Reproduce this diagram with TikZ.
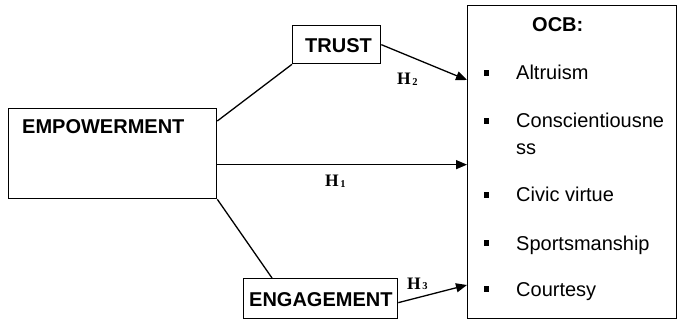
\documentclass[tikz,border=0pt]{standalone}
\usepackage{fontspec}
\setmainfont{Liberation Sans}
\newfontfamily\hfont{Liberation Serif}
\usetikzlibrary{arrows.meta,calc}
\newcommand{\hyplabel}[1]{H\kern1.5pt\raisebox{-0.5pt}{\fontsize{10.5}{10}\selectfont #1}}
\begin{document}
\begin{tikzpicture}[x=1pt,y=-1pt,
 box/.style={draw, line width=1.3pt, inner sep=0, anchor=north west},
 lbl/.style={font=\fontsize{20}{24}\selectfont\bfseries, inner sep=0, anchor=base west},
 item/.style={font=\fontsize{20}{24}\selectfont, inner sep=0, anchor=base west},
 hyp/.style={font=\hfont\bfseries\fontsize{17.5}{20}\selectfont, inner sep=0, anchor=base west},
 conn/.style={line width=1.3pt},
 arr/.style={conn, -{Triangle[length=11pt,width=9pt]}},
 bul/.style={fill, inner sep=0, minimum width=5pt, minimum height=6pt}]
\useasboundingbox (0,0) rectangle (679,320);
% boxes
\node[box, minimum width=208pt, minimum height=90pt] (emp) at (8,108) {};
\node[box, minimum width=88pt, minimum height=38pt] (trust) at (292,25) {};
\node[box, minimum width=154pt, minimum height=40pt] (eng) at (243,278) {};
\node[box, minimum width=209pt, minimum height=313pt] (ocb) at (467,5) {};
% box texts
\node[lbl] (tEmp) at (22,134) {EMPOWERMENT};
\node[lbl] (tTrust) at (305,53) {TRUST};
\node[lbl] (tEng) at (249,306) {ENGAGEMENT};
\node[lbl] (tOcb) at (532,32) {OCB:};
% items
\node[bul] (b1) at (486,73) {};
\node[item] (i1) at (516,80) {Altruism};
\node[bul] (b2) at (486,121) {};
\node[item] (i2) at (516,128) {Conscientiousne};
\node[item] (i2b) at (516,155) {ss};
\node[bul] (b3) at (486,195) {};
\node[item] (i3) at (516,202) {Civic virtue};
\node[bul] (b4) at (486,243) {};
\node[item] (i4) at (516,250) {Sportsmanship};
\node[bul] (b5) at (486,289) {};
\node[item] (i5) at (516,296) {Courtesy};
% connectors
\coordinate (e1) at ([yshift=-11pt]emp.east);
\draw[conn] ([yshift=-13pt]emp.north east) -- (trust.south west);
\draw[arr] (e1) -- (e1 -| ocb.west);
\draw[conn] (emp.south east) -- ([xshift=29pt]eng.north west);
\draw[arr] (trust.east) -- ([yshift=-75pt]ocb.north west);
\draw[arr] ([yshift=-4pt]eng.east) -- ([yshift=-280pt]ocb.north west);
% hypothesis labels
\node[hyp] (h1) at (325,187) {\hyplabel{1}};
\node[hyp] (h2) at (397,85) {\hyplabel{2}};
\node[hyp] (h3) at (407,289) {\hyplabel{3}};
\end{tikzpicture}
\end{document}
